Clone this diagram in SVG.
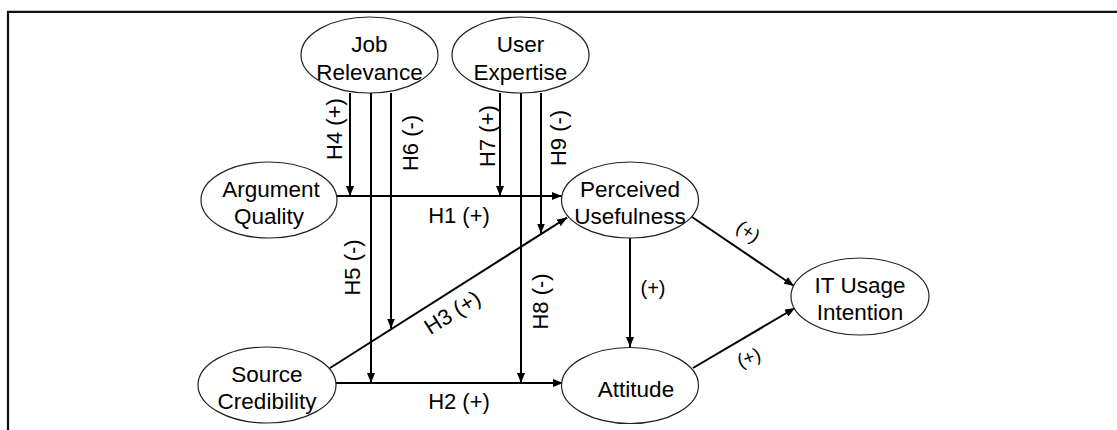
<svg xmlns="http://www.w3.org/2000/svg" width="1117" height="430" viewBox="0 0 1117 430">
<style>
.node ellipse{fill:#fff;stroke:#222;stroke-width:1.2}
.node text{font-family:"Liberation Sans",Arial,sans-serif;font-size:22.5px;fill:#000;text-anchor:middle}
.conn line{stroke:#000;stroke-width:2;marker-end:url(#ah)}
.lbl{font-family:"Liberation Sans",Arial,sans-serif;font-size:22px;fill:#000;text-anchor:middle}
.md{font-size:20px}
.sm{font-size:19px}
</style>
<defs>
<marker id="ah" markerUnits="userSpaceOnUse" markerWidth="10" markerHeight="8" refX="10" refY="4" orient="auto">
<path d="M0,0 L10,4 L0,8 z" fill="#000"/>
</marker>
</defs>
<rect width="1117" height="430" fill="#fff"/>
<path d="M8,430 V11.8 H1117" fill="none" stroke="#111" stroke-width="2.2"/>

<g id="connectors" class="conn">
<line x1="337" y1="196" x2="562" y2="196"/>
<line x1="336" y1="383" x2="563" y2="383"/>
<line x1="330" y1="368" x2="567" y2="217.6"/>
<line x1="350" y1="93" x2="350" y2="196"/>
<line x1="371" y1="93" x2="371" y2="383"/>
<line x1="391" y1="93" x2="391" y2="328.5"/>
<line x1="500" y1="93" x2="500" y2="196"/>
<line x1="521" y1="93" x2="521" y2="383"/>
<line x1="541" y1="93" x2="541" y2="233.5"/>
<line x1="630" y1="238" x2="630" y2="347"/>
<line x1="692" y1="217" x2="794" y2="286"/>
<line x1="693" y1="368" x2="795" y2="308"/>
</g>

<g id="labels">
<text class="lbl" x="459" y="223">H1 (+)</text>
<text class="lbl" x="459" y="409">H2 (+)</text>
<text class="lbl" transform="translate(452,312) rotate(-32.4)" y="8">H3 (+)</text>
<text class="lbl" transform="translate(334,129) rotate(-90)" y="8">H4 (+)</text>
<text class="lbl" transform="translate(352,267.5) rotate(-90)" y="8">H5 (-)</text>
<text class="lbl" transform="translate(410,143) rotate(-90)" y="8">H6 (-)</text>
<text class="lbl" transform="translate(487,136) rotate(-90)" y="8">H7 (+)</text>
<text class="lbl" transform="translate(540,301.5) rotate(-90)" y="8">H8 (-)</text>
<text class="lbl" transform="translate(558,138) rotate(-90)" y="8">H9 (-)</text>
<text class="lbl md" x="653" y="295">(+)</text>
<text class="lbl sm" transform="translate(748,232) rotate(34)" y="6">(+)</text>
<text class="lbl sm" transform="translate(749,358) rotate(-20)" y="6">(+)</text>
</g>

<g id="job-relevance" class="node">
<ellipse cx="369.5" cy="55" rx="68.5" ry="38"/>
<text x="369.5" y="52">Job</text>
<text x="369.5" y="80">Relevance</text>
</g>
<g id="user-expertise" class="node">
<ellipse cx="520.5" cy="55" rx="68.5" ry="38"/>
<text x="520.5" y="52">User</text>
<text x="520.5" y="80">Expertise</text>
</g>
<g id="argument-quality" class="node">
<ellipse cx="269" cy="200" rx="68" ry="38"/>
<text x="271" y="197">Argument</text>
<text x="269" y="224">Quality</text>
</g>
<g id="source-credibility" class="node">
<ellipse cx="267" cy="385" rx="69" ry="38"/>
<text x="267" y="382">Source</text>
<text x="267" y="409">Credibility</text>
</g>
<g id="perceived-usefulness" class="node">
<ellipse cx="630" cy="200" rx="68.5" ry="38"/>
<text x="630" y="197">Perceived</text>
<text x="630" y="224">Usefulness</text>
</g>
<g id="attitude" class="node">
<ellipse cx="630" cy="385.5" rx="68.5" ry="38"/>
<text x="636" y="397">Attitude</text>
</g>
<g id="it-usage-intention" class="node">
<ellipse cx="860" cy="296.5" rx="69" ry="38.5"/>
<text x="860" y="293">IT Usage</text>
<text x="860" y="320">Intention</text>
</g>
</svg>
